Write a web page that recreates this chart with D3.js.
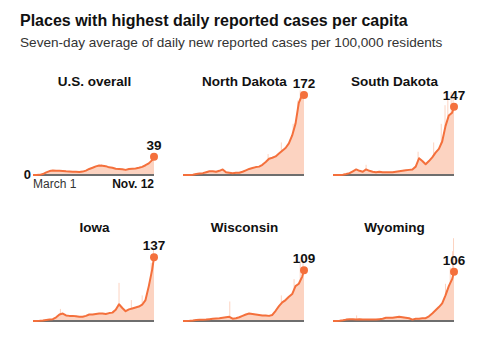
<!DOCTYPE html>
<html>
<head>
<meta charset="utf-8">
<script src="https://cdn.jsdelivr.net/npm/d3@7"></script>
<style>
  body { margin: 0; background: #fff; }
  text { font-family: "Liberation Sans", Arial, sans-serif; }
</style>
</head>
<body>
<svg id="chart"></svg>
<script>
// weekly dates from March 1 plus the last day, Nov. 12
const dates = ["2020-03-01","2020-03-08","2020-03-15","2020-03-22","2020-03-29",
  "2020-04-05","2020-04-12","2020-04-19","2020-04-26","2020-05-03","2020-05-10",
  "2020-05-17","2020-05-24","2020-05-31","2020-06-07","2020-06-14","2020-06-21",
  "2020-06-28","2020-07-05","2020-07-12","2020-07-19","2020-07-26","2020-08-02",
  "2020-08-09","2020-08-16","2020-08-23","2020-08-30","2020-09-06","2020-09-13",
  "2020-09-20","2020-09-27","2020-10-04","2020-10-11","2020-10-18","2020-10-25",
  "2020-11-01","2020-11-08","2020-11-12"];

const places = ["U.S. overall", "North Dakota", "South Dakota", "Iowa", "Wisconsin", "Wyoming"];

// seven-day average per 100,000 residents
const usAvg = [0,0,0.3,2,5.5,8.5,9.5,9.2,9,8.8,8,7.5,7,6.8,6.7,7.3,9.5,13,15.5,18.5,20.5,20,19,16.5,15.5,13.5,13,12.5,11,13,13.5,14,15.5,17.5,21,25,32,39];
const ndAvg = [0,0,0,0.5,2,3,4,6,8,8,7,9,12,6,5,4,5,5,7,10,13,15,17,18,22,28,35,37,40,46,52,58,68,85,110,155,172,172];
const sdAvg = [0,0,0,0.5,2,4,8,12,9,7,12,9,7,6,7,6,6,6,6,7,8,9,10,11,12,18,36,30,23,30,38,48,56,72,105,128,134,147];
const iaAvg = [0,0,0.3,1,2,3,4,8,14,16,12,11,11,10,9,9,11,14,14,15,16,16,15,17,18,24,36,28,21,25,27,29,31,35,45,75,110,137];
const wiAvg = [0,0,0.3,1,2,2.5,2.5,3,4,5,5.5,6,7,8,9,5,6,8,11,14,16,15,14,13,12,12,11,13,22,32,40,45,52,58,75,80,95,109];
const wyAvg = [0,0,0.5,1.5,3,4,4,3,4,3,3,3,3,3,4,5,7,7,7,8,9,8,7,6,3,5,5,6,6,10,16,23,30,38,55,75,90,106];

// a few raw daily reports that stick out above the average
const usSpikes = [["2020-07-24", 23], ["2020-11-07", 38]];
const ndSpikes = [["2020-08-28", 45], ["2020-09-25", 70], ["2020-10-20", 110], ["2020-10-30", 160], ["2020-11-04", 182], ["2020-11-07", 180], ["2020-11-10", 178]];
const sdSpikes = [["2020-05-10", 22], ["2020-08-28", 50], ["2020-09-30", 70], ["2020-10-16", 110], ["2020-10-24", 150], ["2020-10-30", 165], ["2020-11-06", 178], ["2020-11-10", 172]];
const iaSpikes = [["2020-04-28", 26], ["2020-08-30", 82], ["2020-09-25", 45], ["2020-10-18", 55], ["2020-11-06", 125], ["2020-11-11", 155]];
const wiSpikes = [["2020-06-08", 42], ["2020-09-25", 55], ["2020-10-22", 90], ["2020-11-04", 130], ["2020-11-10", 135]];
const wySpikes = [["2020-04-20", 12], ["2020-10-25", 80], ["2020-11-04", 115], ["2020-11-09", 150], ["2020-11-11", 178]];

const avgs = [usAvg, ndAvg, sdAvg, iaAvg, wiAvg, wyAvg];
const spikes = [usSpikes, ndSpikes, sdSpikes, iaSpikes, wiSpikes, wySpikes];

const W = 479, H = 347;
const svg = d3.select("#chart").attr("width", W).attr("height", H);

svg.append("text")
  .attr("x", 20).attr("y", 26)
  .attr("font-size", 16).attr("font-weight", "bold").attr("fill", "#111")
  .text("Places with highest daily reported cases per capita");
svg.append("text")
  .attr("x", 20).attr("y", 47)
  .attr("font-size", 13.6).attr("fill", "#333")
  .text("Seven-day average of daily new reported cases per 100,000 residents");

const parse = d3.timeParse("%Y-%m-%d");
const colX = [33, 183, 333], rowY = [175, 321];
const pw = 121;

const x = d3.scaleTime()
  .domain([parse("2020-03-01"), parse("2020-11-12")])
  .range([0, pw]);
const y = d3.scaleLinear().domain([0, 172]).range([0, -80]);

const orange = "#f4703c", pink = "#fcd3c1";

places.forEach((name, i) => {
  const g = svg.append("g")
    .attr("transform", `translate(${colX[i % 3]},${rowY[Math.floor(i / 3)]})`);
  const pts = dates.map((d, k) => ({ date: parse(d), v: avgs[i][k] }));

  g.append("text")
    .attr("x", pw / 2 + 1).attr("y", -89)
    .attr("text-anchor", "middle")
    .attr("font-size", 13.5).attr("font-weight", "bold").attr("fill", "#111")
    .text(name);

  g.selectAll("line.spike")
    .data(spikes[i])
    .join("line")
    .attr("class", "spike")
    .attr("x1", d => x(parse(d[0]))).attr("x2", d => x(parse(d[0])))
    .attr("y1", 0).attr("y2", d => y(d[1]))
    .attr("stroke", pink).attr("stroke-width", 1);

  g.append("path")
    .datum(pts)
    .attr("fill", pink)
    .attr("d", d3.area().x(d => x(d.date)).y0(0).y1(d => y(d.v)));

  g.append("line")
    .attr("x1", 0).attr("x2", pw)
    .attr("stroke", "#6e6e6e").attr("stroke-width", 1.8);

  g.append("path")
    .datum(pts)
    .attr("fill", "none")
    .attr("stroke", orange).attr("stroke-width", 2)
    .attr("stroke-linejoin", "round")
    .attr("d", d3.line().x(d => x(d.date)).y(d => y(d.v)));

  const last = pts[pts.length - 1];
  g.append("circle")
    .attr("cx", x(last.date)).attr("cy", y(last.v))
    .attr("r", 4).attr("fill", orange);
  g.append("text")
    .attr("x", x(last.date)).attr("y", y(last.v) - 7)
    .attr("text-anchor", "middle")
    .attr("font-size", 13.5).attr("font-weight", "bold").attr("fill", "#111")
    .text(Math.round(last.v));

  if (i === 0) {
    g.append("text")
      .attr("x", -2).attr("y", 4)
      .attr("text-anchor", "end")
      .attr("font-size", 13).attr("font-weight", "bold").attr("fill", "#111")
      .text("0");
    g.append("text")
      .attr("x", 0).attr("y", 13)
      .attr("font-size", 12).attr("fill", "#333")
      .text("March 1");
    g.append("text")
      .attr("x", pw).attr("y", 13)
      .attr("text-anchor", "end")
      .attr("font-size", 12).attr("font-weight", "bold").attr("fill", "#111")
      .text("Nov. 12");
  }
});
</script>
</body>
</html>
